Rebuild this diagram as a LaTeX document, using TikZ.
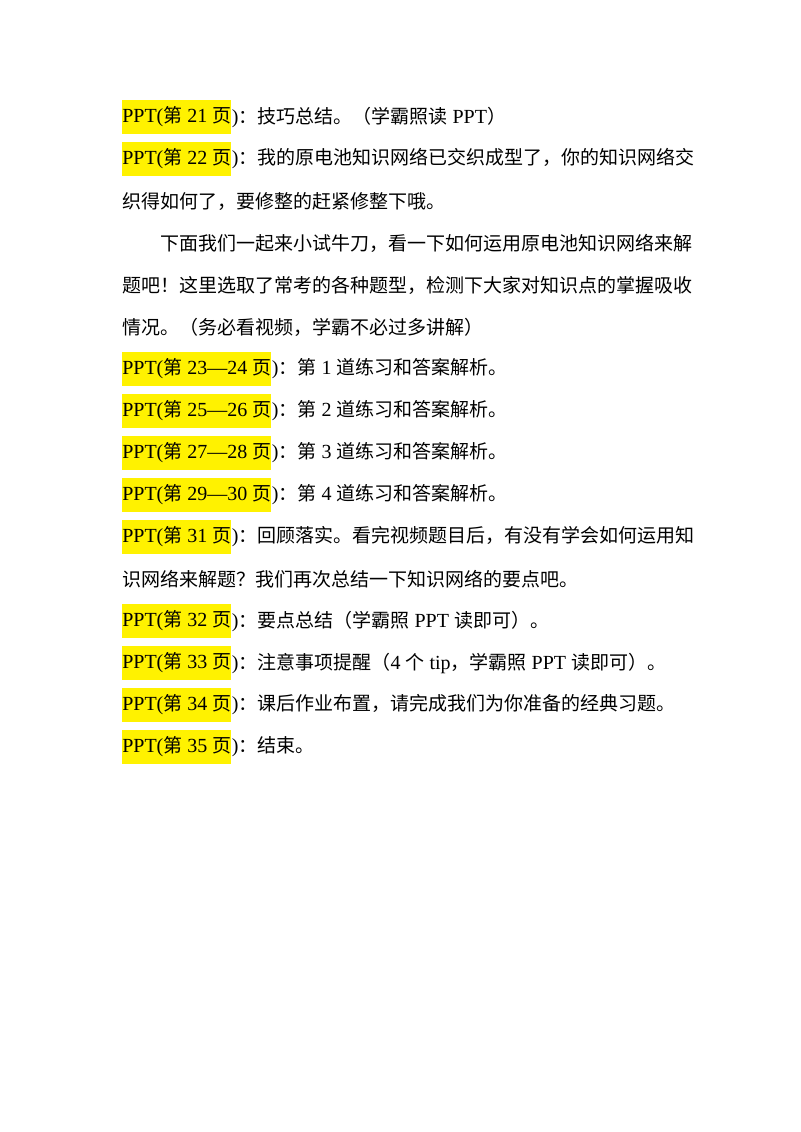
\documentclass[tikz,border=0pt]{standalone}
\usepackage{fontspec}
\setmainfont{Noto Sans CJK SC}[Scale=0.95]
\newfontfamily\en{Liberation Serif}
\begin{document}
\begin{tikzpicture}[x=0.75pt,y=-0.75pt,
  hl/.style={fill=yellow,anchor=west,inner sep=0pt,minimum height=25pt,font=\fontsize{15}{17}\selectfont},
  tx/.style={anchor=west,inner sep=0pt,font=\fontsize{15}{17}\selectfont}]
\useasboundingbox (0,0) rectangle (800,1132);
\newcommand\pp[2]{{\en PPT(}第{\en\ #1 }页}
\node[hl] (h1) at (122,117) {\pp{21}{}};
\node[tx] (t1) at (h1.east) {{\en)}：技巧总结。（学霸照读{\en\ PPT}）};
\node[hl] (h2) at (122,159) {\pp{22}{}};
\node[tx] (t2) at (h2.east) {{\en)}：我的原电池知识网络已交织成型了，你的知识网络交};
\node[tx] (t2b) at (122,201) {织得如何了，要修整的赶紧修整下哦。};
\node[tx] (t3) at (160,243) {下面我们一起来小试牛刀，看一下如何运用原电池知识网络来解};
\node[tx] (t3b) at (122,285) {题吧！这里选取了常考的各种题型，检测下大家对知识点的掌握吸收};
\node[tx] (t3c) at (122,327) {情况。（务必看视频，学霸不必过多讲解）};
\node[hl] (h4) at (122,369) {\pp{23—24}{}};
\node[tx] (t4) at (h4.east) {{\en)}：第{\en\ 1 }道练习和答案解析。};
\node[hl] (h5) at (122,411) {\pp{25—26}{}};
\node[tx] (t5) at (h5.east) {{\en)}：第{\en\ 2 }道练习和答案解析。};
\node[hl] (h6) at (122,453) {\pp{27—28}{}};
\node[tx] (t6) at (h6.east) {{\en)}：第{\en\ 3 }道练习和答案解析。};
\node[hl] (h7) at (122,495) {\pp{29—30}{}};
\node[tx] (t7) at (h7.east) {{\en)}：第{\en\ 4 }道练习和答案解析。};
\node[hl] (h8) at (122,537) {\pp{31}{}};
\node[tx] (t8) at (h8.east) {{\en)}：回顾落实。看完视频题目后，有没有学会如何运用知};
\node[tx] (t8b) at (122,579) {识网络来解题？我们再次总结一下知识网络的要点吧。};
\node[hl] (h9) at (122,621) {\pp{32}{}};
\node[tx] (t9) at (h9.east) {{\en)}：要点总结（学霸照{\en\ PPT }读即可）。};
\node[hl] (h10) at (122,663) {\pp{33}{}};
\node[tx] (t10) at (h10.east) {{\en)}：注意事项提醒（{\en 4 }个{\en\ tip}，学霸照{\en\ PPT }读即可）。};
\node[hl] (h11) at (122,705) {\pp{34}{}};
\node[tx] (t11) at (h11.east) {{\en)}：课后作业布置，请完成我们为你准备的经典习题。};
\node[hl] (h12) at (122,747) {\pp{35}{}};
\node[tx] (t12) at (h12.east) {{\en)}：结束。};
\end{tikzpicture}
\end{document}
